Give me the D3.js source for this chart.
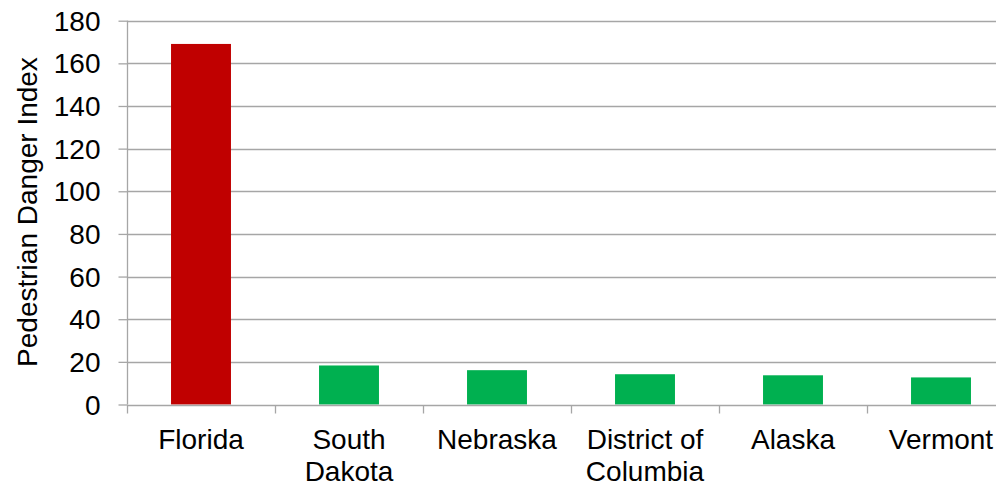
<!DOCTYPE html>
<html>
<head>
<meta charset="utf-8">
<script src="https://cdn.jsdelivr.net/npm/d3@7"></script>
<style>
  html, body { margin: 0; padding: 0; background: #fff; overflow: hidden; }
  svg { display: block; font-family: "Liberation Sans", Arial, sans-serif; }
</style>
</head>
<body>
<svg id="chart" width="996" height="487"></svg>
<script>
// Pedestrian Danger Index by state
const states = ["Florida", "South Dakota", "Nebraska", "District of Columbia", "Alaska", "Vermont"];
const stateLines = [["Florida"], ["South", "Dakota"], ["Nebraska"], ["District of", "Columbia"], ["Alaska"], ["Vermont"]];
const dangerIndex = [169.1, 18.3, 16.1, 14.2, 13.7, 12.7];
const barColors = ["#C00000", "#00B050", "#00B050", "#00B050", "#00B050", "#00B050"];
const yTicks = [0, 20, 40, 60, 80, 100, 120, 140, 160, 180];
const yTitle = "Pedestrian Danger Index";

const fontSize = 28;
const svg = d3.select("#chart");
const plotLeft = 127, plotRight = 1015, plotTop = 20.7, plotBottom = 404.5;

const x = d3.scaleBand().domain(states).range([plotLeft, plotRight]).paddingInner(0.595).paddingOuter(0.2975);
const xBand = d3.scaleBand().domain(states).range([plotLeft, plotRight]);
const y = d3.scaleLinear().domain([0, 180]).range([plotBottom, plotTop]);

// horizontal gridlines
svg.append("g")
  .selectAll("line")
  .data(yTicks.filter(d => d > 0))
  .join("line")
  .attr("x1", plotLeft).attr("x2", plotRight)
  .attr("y1", d => Math.round(y(d)) + 0.5).attr("y2", d => Math.round(y(d)) + 0.5)
  .attr("stroke", "#a6a6a6").attr("stroke-width", 1.3);

// bars
svg.append("g")
  .selectAll("rect")
  .data(dangerIndex)
  .join("rect")
  .attr("x", (d, i) => x(states[i]))
  .attr("width", x.bandwidth())
  .attr("y", d => y(d))
  .attr("height", d => y(0) - y(d))
  .attr("fill", (d, i) => barColors[i]);

// y axis
const yAxis = svg.append("g")
  .attr("transform", `translate(${plotLeft + 0.5},0)`)
  .call(d3.axisLeft(y).tickValues(yTicks).tickSize(9).tickPadding(18));
yAxis.select(".domain").attr("stroke", "#a6a6a6").attr("stroke-width", 1.3).attr("d", `M0,${plotTop}V${plotBottom}`);
yAxis.selectAll(".tick line").attr("stroke", "#a6a6a6").attr("stroke-width", 1.3);
yAxis.selectAll(".tick text")
  .attr("font-size", fontSize).attr("fill", "#000")
  .attr("dy", "0.34em")
  .attr("font-family", "Liberation Sans, Arial, sans-serif");

// x axis: baseline plus category separators
const xg = svg.append("g").attr("transform", `translate(0,${Math.round(plotBottom) + 0.5})`);
xg.append("line").attr("x1", plotLeft).attr("x2", plotRight).attr("stroke", "#a6a6a6").attr("stroke-width", 1.3);
xg.selectAll("line.sep")
  .data(states)
  .join("line").attr("class", "sep")
  .attr("x1", d => Math.round(xBand(d)) + 0.5).attr("x2", d => Math.round(xBand(d)) + 0.5)
  .attr("y1", 0).attr("y2", 8)
  .attr("stroke", "#a6a6a6").attr("stroke-width", 1.3);

// category labels (wrapped)
const labels = svg.append("g")
  .selectAll("text")
  .data(states)
  .join("text")
  .attr("text-anchor", "middle")
  .attr("font-size", fontSize)
  .attr("fill", "#000")
  .attr("x", d => xBand(d) + xBand.bandwidth() / 2)
  .attr("y", 449);
labels.selectAll("tspan")
  .data((d, i) => stateLines[i])
  .join("tspan")
  .attr("x", function () { return this.parentNode.getAttribute("x"); })
  .attr("dy", (d, j) => j === 0 ? 0 : 32)
  .text(d => d);

// y axis title
svg.append("text")
  .attr("transform", `translate(37,212) rotate(-90)`)
  .attr("text-anchor", "middle")
  .attr("font-size", fontSize)
  .attr("fill", "#000")
  .text(yTitle);
</script>
</body>
</html>
